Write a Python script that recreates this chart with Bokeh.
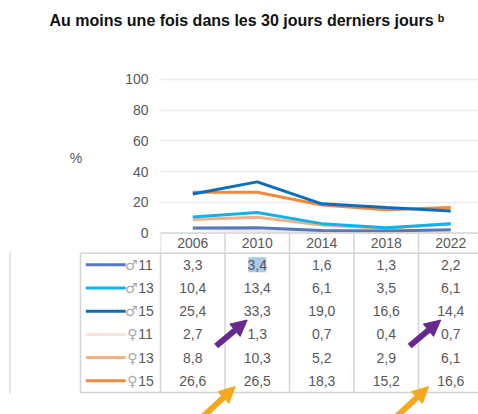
from bokeh.plotting import figure
from bokeh.layouts import column
from bokeh.models import Range1d, FixedTicker, Span, Arrow, NormalHead
from bokeh.core.properties import value
from bokeh.embed import file_html
from bokeh.resources import INLINE

# ---------------- data ----------------
years = [2006, 2010, 2014, 2018, 2022]
series_symbols = ["♂", "♂", "♂", "♀", "♀", "♀"]
series_ages = ["11", "13", "15", "11", "13", "15"]
boys_11 = [3.3, 3.4, 1.6, 1.3, 2.2]
boys_13 = [10.4, 13.4, 6.1, 3.5, 6.1]
boys_15 = [25.4, 33.3, 19.0, 16.6, 14.4]
girls_11 = [2.7, 1.3, 0.7, 0.4, 0.7]
girls_13 = [8.8, 10.3, 5.2, 2.9, 6.1]
girls_15 = [26.6, 26.5, 18.3, 15.2, 16.6]
y_ticks = [0, 20, 40, 60, 80, 100]
title_text = "Au moins une fois dans les 30 jours derniers jours ᵇ"
y_label = "%"

series = [boys_11, boys_13, boys_15, girls_11, girls_13, girls_15]
colors = ["#5479be", "#10b2ee", "#0b6dbd", "#fbe4d4", "#f4b183", "#f08a3e"]

FONT = "Liberation Sans"
TXT = "#595959"
BORDER = "#d4d4d4"
GRID = "#ececec"

W = 478
PX_PER_YEAR = 16.125
FRAME_LEFT = 160
X_RIGHT = 2004 + (W - FRAME_LEFT) / PX_PER_YEAR
X_LEFT_B = 2004 - FRAME_LEFT / PX_PER_YEAR
HEADER_Y = -6.8          # header row position in chart units (below 0)


def fmt(v):
    return f"{v:.1f}".replace(".", ",")


def bare(fig):
    fig.grid.grid_line_color = None
    return fig


# ---------------- title ----------------
t = bare(figure(width=W, height=40, x_range=Range1d(0, W), y_range=Range1d(0, 40),
                output_backend="svg", toolbar_location=None,
                x_axis_location=None, y_axis_location=None, min_border=0,
                outline_line_color=None, frame_align=False))
t.text(x=[49], y=[20], text=[title_text], text_align="left",
       text_baseline="middle", text_font=value(FONT), text_font_size="16px",
       text_font_style="bold", text_color="#111111")

# ---------------- chart ----------------
p = figure(width=W, height=211, x_range=Range1d(2004, X_RIGHT),
           y_range=Range1d(-12.04, 110.4), output_backend="svg",
           toolbar_location=None, x_axis_location=None,
           min_border_left=FRAME_LEFT, min_border_right=0, min_border_top=23,
           min_border_bottom=0, outline_line_color=None, frame_align=False)

p.yaxis.ticker = FixedTicker(ticks=y_ticks)
p.yaxis.axis_line_color = None
p.yaxis.major_tick_line_color = None
p.yaxis.minor_tick_line_color = None
p.yaxis.major_tick_out = 0
p.yaxis.major_tick_in = 0
p.yaxis.major_label_standoff = 12
p.yaxis.major_label_text_font = FONT
p.yaxis.major_label_text_font_size = "14px"
p.yaxis.major_label_text_color = TXT
p.yaxis.axis_label = y_label
p.yaxis.axis_label_orientation = "horizontal"
p.yaxis.axis_label_standoff = 40
p.yaxis.axis_label_text_font = FONT
p.yaxis.axis_label_text_font_size = "14px"
p.yaxis.axis_label_text_font_style = "normal"
p.yaxis.axis_label_text_color = TXT
p.ygrid.ticker = FixedTicker(ticks=y_ticks[1:])
p.ygrid.grid_line_color = GRID
p.ygrid.grid_line_width = 1.5
p.xgrid.grid_line_color = None

# header row of the table (top border, column separators, years)
p.add_layout(Span(location=0, dimension="width", line_color=BORDER, line_width=1.5))
p.segment(x0=[y - 2 for y in years], x1=[y - 2 for y in years],
          y0=[0] * 5, y1=[-13] * 5, line_color=BORDER, line_width=1.5)
p.text(x=years, y=[HEADER_Y] * 5, text=[str(y) for y in years],
       text_align="center", text_baseline="middle", text_font=value(FONT),
       text_font_size="14px", text_color=TXT)

draw_order = [3, 4, 0, 1, 5, 2]
for i in draw_order:
    p.line(years, series[i], line_color=colors[i], line_width=3)

# ---------------- table body ----------------
q = bare(figure(width=W, height=163, x_range=Range1d(X_LEFT_B, X_RIGHT),
                y_range=Range1d(6.453, -0.573), output_backend="svg",
                toolbar_location=None, x_axis_location=None, y_axis_location=None,
                min_border=0, outline_line_color=None, frame_align=False))

TABLE_LEFT = 2004 - 80 / PX_PER_YEAR
n = len(series)

# highlight on selected cell
q.rect(x=[years[1]], y=[0], width=1.12, height=0.65,
       fill_color="#a9cbe9", line_color=None)

# borders
q.segment(x0=[TABLE_LEFT, TABLE_LEFT], x1=[X_RIGHT + 1, X_RIGHT + 1],
          y0=[-0.5, n - 0.5], y1=[-0.5, n - 0.5],
          line_color=BORDER, line_width=1.5)
q.segment(x0=[TABLE_LEFT], x1=[TABLE_LEFT], y0=[-0.5], y1=[n - 0.5],
          line_color=BORDER, line_width=1.5)
q.segment(x0=[y - 2 for y in years], x1=[y - 2 for y in years],
          y0=[-1] * 5, y1=[n - 0.5] * 5, line_color=BORDER, line_width=1.5)
q.segment(x0=[X_LEFT_B + 9.5 / PX_PER_YEAR], x1=[X_LEFT_B + 9.5 / PX_PER_YEAR],
          y0=[-1], y1=[n - 0.45], line_color="#dcdcdc", line_width=1.5)

# rows
for i, vals in enumerate(series):
    q.segment(x0=[TABLE_LEFT + 0.33], x1=[TABLE_LEFT + 2.8], y0=[i], y1=[i],
              line_color=colors[i], line_width=3)
    q.text(x=[2002.57], y=[i], text=[series_symbols[i]], text_align="right",
           text_baseline="middle", text_font=value("DejaVu Sans"),
           text_font_size="14px", text_color="#a8a8a8")
    q.text(x=[2002.62], y=[i], text=[series_ages[i]], text_align="left",
           text_baseline="middle", text_font=value(FONT),
           text_font_size="14px", text_color=TXT)
    q.text(x=years, y=[i] * 5, text=[fmt(v) for v in vals],
           text_align="center", text_baseline="middle", text_font=value(FONT),
           text_font_size="14px", text_color=TXT)

# annotation arrows pointing at cells
PURPLE = "#68288e"
ORANGE = "#f5a81c"
for yr in (years[1], years[4]):
    q.add_layout(Arrow(end=NormalHead(size=16, fill_color=PURPLE, line_color=PURPLE),
                       x_start=yr - 2.55, y_start=2 + 1.5,
                       x_end=yr - 0.62, y_end=2 + 0.38,
                       line_color=PURPLE, line_width=6))
    q.add_layout(Arrow(end=NormalHead(size=16, fill_color=ORANGE, line_color=ORANGE),
                       x_start=yr - 3.76, y_start=5 + 1.8,
                       x_end=yr - 1.37, y_end=5 + 0.25,
                       line_color=ORANGE, line_width=6))

layout = column(t, p, q, spacing=0)
open("out.html", "w").write(file_html(layout, INLINE))
